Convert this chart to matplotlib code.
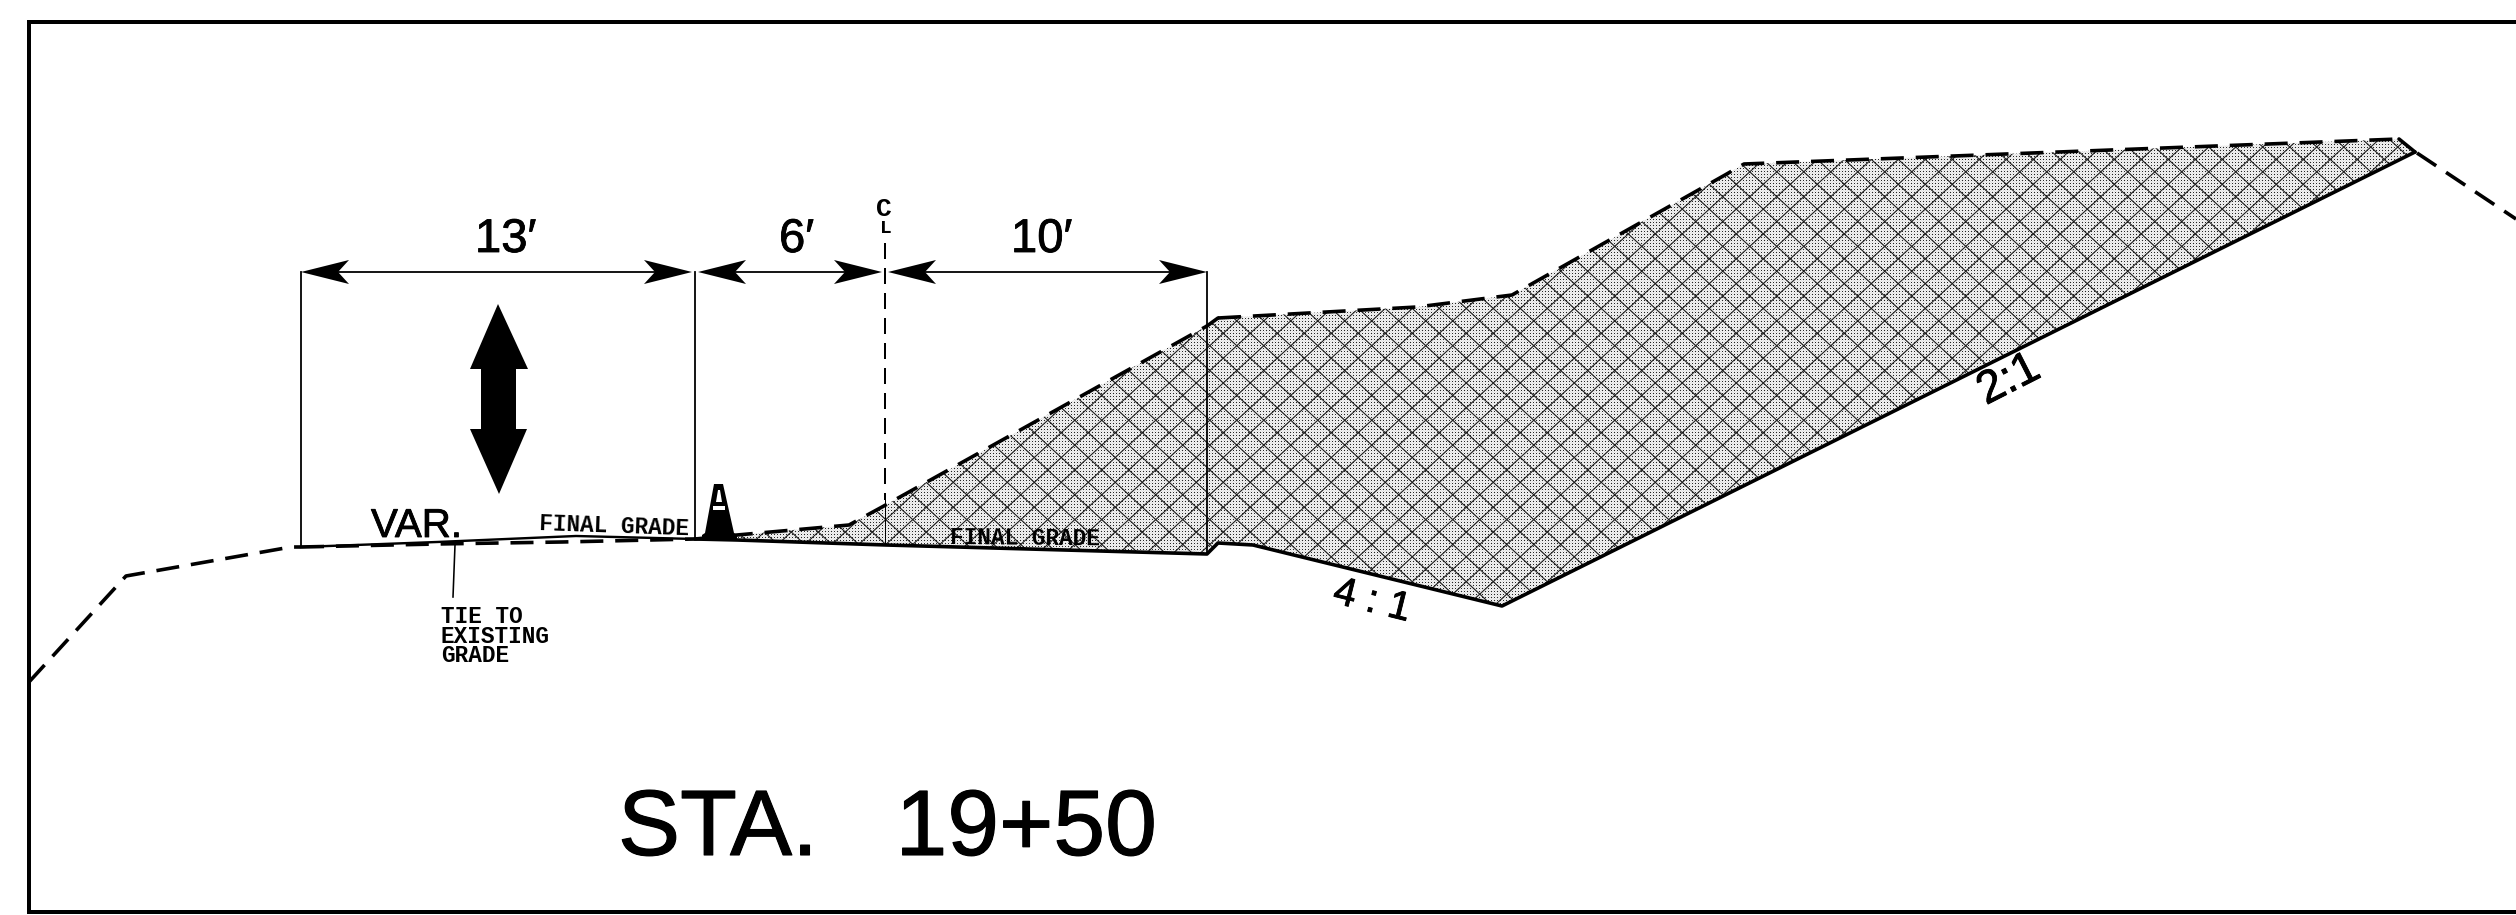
import numpy as np
import matplotlib
matplotlib.use("Agg")
import matplotlib.pyplot as plt
import matplotlib.patheffects as pe
from matplotlib.patches import Polygon
from matplotlib.collections import LineCollection

W, H = 2516, 915

# Profile points (x, y in drawing units)
upper_x = [695, 737, 849, 882, 1207, 1218, 1417, 1512, 1725, 1744, 2399, 2415]
upper_y = [539, 535, 525, 507, 326, 318, 307, 295, 175, 164, 139, 152]
lower_x = [695, 737, 886, 1207, 1218, 1253, 1502, 2415]
lower_y = [539, 540, 545, 554, 543, 545, 606, 152]
exist_left_x = [29, 126, 291, 301]
exist_left_y = [682, 576, 547, 547]
exist_under_x = [301, 437, 562, 695]
exist_under_y = [547, 544, 542, 539]
final_left_x = [301, 437, 576, 695]
final_left_y = [547, 542, 536, 539]
exist_right_x = [2417, 2516]
exist_right_y = [153, 219]

# Dimensions
dim_stations = [301, 695, 885, 1207]
dim_labels = ["13\u2032", "6\u2032", "10\u2032"]
dim_label_x = [475, 779, 1011]
ext_bottoms = [547, 539, 500, 554]
dim_y = 272

# Double arrow and traffic cone outline
big_arrow_x = [498, 528, 516, 516, 527, 499, 470, 481, 481, 470]
big_arrow_y = [304, 369, 369, 429, 429, 494, 429, 429, 369, 369]
cone_x = [714, 723, 734, 737, 737, 702, 702, 705]
cone_y = [484, 484, 533, 535, 540, 540, 535, 533]
cone_band_x = [713, 725, 725, 713]
cone_band_y = [506, 506, 510, 510]
cone_top_x = [718, 720, 722, 716]
cone_top_y = [490, 490, 502, 502]

tie_lines = ["TIE TO", "EXISTING", "GRADE"]
tie_baselines = [623, 643, 662]

fig = plt.figure(figsize=(W / 100, H / 100), dpi=100, facecolor="white")
ax = fig.add_axes([0, 0, 1, 1])
ax.set_xlim(0, W)
ax.set_ylim(H, 0)
ax.axis("off")
px = 0.72
SANS = "Liberation Sans"
MONO = "Liberation Mono"
heavy = [pe.withStroke(linewidth=0.6, foreground="black")]

# Frame (open at the right edge)
ax.plot([W, 29, 29, W], [22, 22, 912, 912], color="black", lw=4 * px, solid_joinstyle="miter")

# Fill region: stipple and cross hatching, clipped to the profile
poly_xy = np.column_stack([upper_x + lower_x[::-1], upper_y + lower_y[::-1]])
clip = Polygon(poly_xy, closed=True, transform=ax.transData, facecolor="none", edgecolor="none")
ax.add_patch(clip)
yy, xx = np.mgrid[0:H, 0:W]
tex = np.full((H, W), 0.87)
tex[((xx + yy) % 2) == 0] = 0.96
tex[(xx % 3 == 0) & (yy % 3 == 0)] = 0.15
im = ax.imshow(tex, cmap="gray", vmin=0, vmax=1, extent=(0, W, H, 0),
               interpolation="nearest", aspect="auto", zorder=1)
im.set_clip_path(clip)
ax.set_xlim(0, W)
ax.set_ylim(H, 0)

slope, spacing = 0.92, 27.0
segs = []
for c in np.arange(-3000, 5000, spacing):
    segs.append([(c, 0), (c + H / slope, H)])
    segs.append([(c + H / slope, 0), (c, H)])
hatch = LineCollection(segs, colors="#1c1c1c", linewidths=1.1 * px, zorder=2)
ax.add_collection(hatch)
hatch.set_clip_path(clip)

# Profile lines
dash = dict(color="black", lw=3.6 * px, dashes=(6.4, 3.3), dash_capstyle="butt", zorder=4)
solid = dict(color="black", lw=3.6 * px, solid_capstyle="round", zorder=4)
ax.plot(upper_x[:5], upper_y[:5], **dash)
ax.plot(upper_x[4:6], upper_y[4:6], **solid)
ax.plot(upper_x[5:11], upper_y[5:11], **dash)
ax.plot(upper_x[10:12], upper_y[10:12], **solid)
ax.plot(lower_x, lower_y, **solid)
ax.plot(exist_left_x, exist_left_y, **dash)
ax.plot(exist_under_x, exist_under_y, **dash)
ax.plot(final_left_x, final_left_y, color="black", lw=2.4 * px, zorder=4)
ax.plot(exist_right_x, exist_right_y, **dash)

# Extension lines and dimensions
thin = dict(color="black", lw=1.8 * px, zorder=5)
for i, x in enumerate(dim_stations):
    if i == 2:
        ax.plot([x, x], [243, ext_bottoms[i]], color="black", lw=2 * px,
                dashes=(8, 4.5), dash_capstyle="butt", zorder=5)
        ax.plot([x, x], [ext_bottoms[i], 545], color="black", lw=1 * px, zorder=5)
    else:
        ax.plot([x, x], [dim_y, ext_bottoms[i]], **thin)

L, HW, N = 48, 12, 37
for i in range(3):
    a, b = dim_stations[i], dim_stations[i + 1]
    a2 = a + (0 if i == 0 else 3)
    b2 = b - (0 if i == 2 else 3)
    ax.plot([a2 + N, b2 - N], [dim_y, dim_y], **thin)
    ax.add_patch(Polygon([(a2, dim_y), (a2 + L, dim_y - HW), (a2 + N, dim_y), (a2 + L, dim_y + HW)],
                         closed=True, fc="black", ec="none", zorder=5))
    ax.add_patch(Polygon([(b2, dim_y), (b2 - L, dim_y - HW), (b2 - N, dim_y), (b2 - L, dim_y + HW)],
                         closed=True, fc="black", ec="none", zorder=5))
    ax.text(dim_label_x[i], 252, dim_labels[i], family=SANS, fontsize=34, ha="left",
            va="baseline", color="black", path_effects=heavy)

ax.add_patch(Polygon(np.column_stack([big_arrow_x, big_arrow_y]), closed=True, fc="black", ec="none", zorder=5))
ax.add_patch(Polygon(np.column_stack([cone_x, cone_y]), closed=True, fc="black", ec="none", zorder=6))
ax.add_patch(Polygon(np.column_stack([cone_band_x, cone_band_y]), closed=True, fc="white", ec="none", zorder=7))
ax.add_patch(Polygon(np.column_stack([cone_top_x, cone_top_y]), closed=True, fc="white", ec="none", zorder=7))

# Leader
ax.plot([455, 453], [545, 597], color="black", lw=1.6 * px, zorder=5)

# Text
ax.text(876, 216, "C", family=MONO, fontweight="bold", fontsize=19, ha="left", va="baseline", color="black")
ax.text(880, 233, "L", family=MONO, fontweight="bold", fontsize=14, ha="left", va="baseline", color="black")
ax.text(371, 537, "VAR.", family=SANS, fontsize=29, ha="left", va="baseline", color="black", path_effects=heavy)
ax.text(539, 530, "FINAL GRADE", family=MONO, fontweight="bold", fontsize=16.4, rotation=-2,
        rotation_mode="anchor", ha="left", va="baseline", color="black", zorder=6)
ax.text(950, 544, "FINAL GRADE", family=MONO, fontweight="bold", fontsize=16.4, rotation=-0.5,
        rotation_mode="anchor", ha="left", va="baseline", color="black", zorder=6)
for line, y in zip(tie_lines, tie_baselines):
    ax.text(441, y, line, family=MONO, fontweight="bold", fontsize=16.4, ha="left", va="baseline", color="black")
ax.text(1372, 601, "4 : 1", family=SANS, fontsize=29, rotation=-14, rotation_mode="anchor",
        ha="center", va="center", color="black", path_effects=heavy)
ax.text(2009, 380, "2:1", family=SANS, fontsize=33, rotation=27, rotation_mode="anchor",
        ha="center", va="center", color="black", path_effects=heavy)
ax.text(618, 855, "STA.   19+50", family=SANS, fontsize=67, ha="left", va="baseline", color="black",
        path_effects=[pe.withStroke(linewidth=0.8, foreground="black")])

fig.savefig("out.png", dpi=100, facecolor="white")
